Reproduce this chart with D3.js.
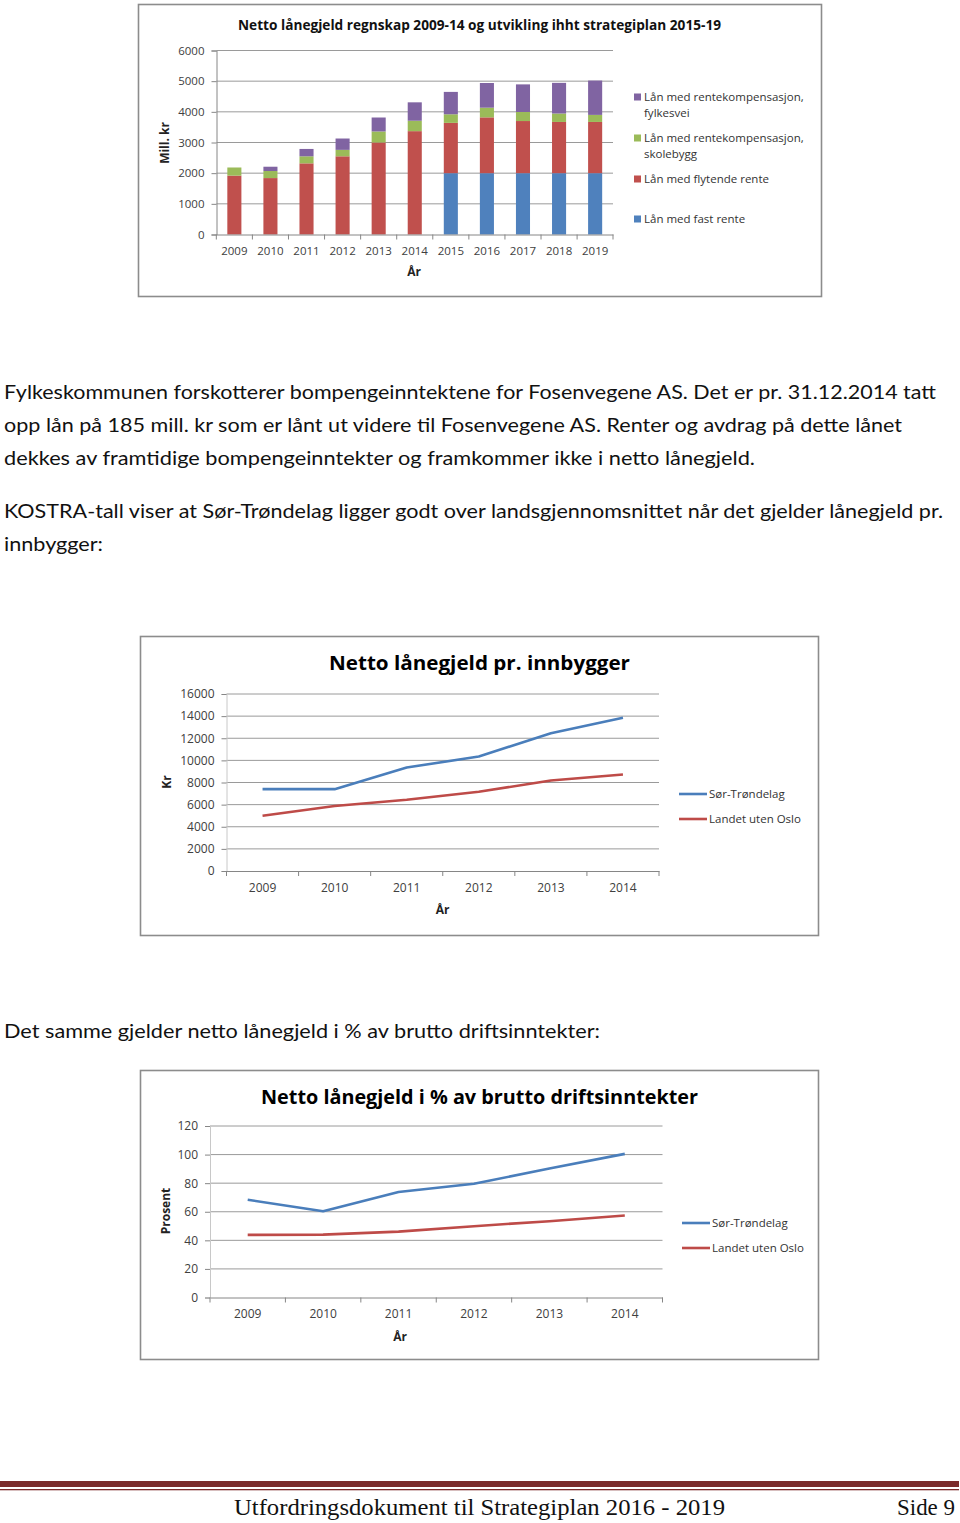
<!DOCTYPE html>
<html><head><meta charset="utf-8">
<script src="https://cdn.jsdelivr.net/npm/d3@7"></script>
<style>
html,body{margin:0;padding:0;background:#fff;}
svg{display:block;}
</style></head>
<body>
<svg id="page" width="960" height="1523"></svg>
<script>
// ---------- DATA ----------
const barYears = ["2009","2010","2011","2012","2013","2014","2015","2016","2017","2018","2019"];
const fastRente      = [0,0,0,0,0,0,2000,2000,2000,2000,2000];
const flytendeRente  = [1920,1840,2320,2550,3000,3370,1640,1820,1700,1670,1670];
const skolebygg      = [265,230,230,210,360,340,280,315,295,275,230];
const fylkesvei      = [0,140,240,370,455,600,730,805,900,1000,1120];
const barSeriesNames = ["Lån med fast rente","Lån med flytende rente","Lån med rentekompensasjon, skolebygg","Lån med rentekompensasjon, fylkesvei"];
const barTicks = [0,1000,2000,3000,4000,5000,6000];

const lineYears = ["2009","2010","2011","2012","2013","2014"];
const innbSorTrondelag = [7400,7400,9350,10350,12450,13860];
const innbLandet       = [4990,5870,6440,7160,8180,8720];
const innbTicks = [0,2000,4000,6000,8000,10000,12000,14000,16000];

const prosSorTrondelag = [68.4,60.4,73.8,79.6,90.2,100.5];
const prosLandet       = [43.8,44.0,46.1,49.9,53.4,57.4];
const prosTicks = [0,20,40,60,80,100,120];
const lineSeriesNames = ["Sør-Trøndelag","Landet uten Oslo"];

const paragraphs = [
  {t:"Fylkeskommunen forskotterer bompengeinntektene for Fosenvegene AS. Det er pr. 31.12.2014 tatt", y:392, w:932},
  {t:"opp lån på 185 mill. kr som er lånt ut videre til Fosenvegene AS. Renter og avdrag på dette lånet", y:425, w:898},
  {t:"dekkes av framtidige bompengeinntekter og framkommer ikke i netto lånegjeld.", y:458, w:751},
  {t:"KOSTRA-tall viser at Sør-Trøndelag ligger godt over landsgjennomsnittet når det gjelder lånegjeld pr.", y:511, w:939},
  {t:"innbygger:", y:544, w:99},
  {t:"Det samme gjelder netto lånegjeld i % av brutto driftsinntekter:", y:1031, w:596}
];

// ---------- STYLE ----------
const FONT = "'Open Sans', sans-serif";
const TEXT_FONT = "Lato, 'Open Sans', sans-serif";
const cBlue="#4f81bd", cRed="#c0504d", cGreen="#9bbb59", cPurple="#8064a2";
const lineBlue="#4a7ebb", lineRed="#be4b48";
const gridC="#9a9a9a", axisC="#868686", labelC="#404040";

const svg = d3.select("#page");

// ---------- paragraphs ----------
paragraphs.forEach(p=>{
  svg.append("text").attr("x",4).attr("y",p.y+7)
    .attr("font-family",TEXT_FONT).attr("font-size",20).attr("fill","#111")
    .attr("textLength",p.w).attr("lengthAdjust","spacingAndGlyphs")
    .text(p.t);
});

// ---------- frame helper ----------
function frame(x,y,w,h){
  svg.append("rect").attr("x",x).attr("y",y).attr("width",w).attr("height",h)
    .attr("fill","#fff").attr("stroke","#8c8c8c").attr("stroke-width",1.6);
}

// ---------- CHART 1: stacked bars ----------
(function(){
  frame(138.5,4.5,683,292);
  const x = d3.scaleBand().domain(barYears).range([216.5,613]).paddingInner(0.61).paddingOuter(0.3);
  const y = d3.scaleLinear().domain([0,6000]).range([234.5,50.5]);
  const g = svg.append("g");
  g.selectAll(".gr").data(barTicks.filter(d=>d>0)).enter().append("line")
    .attr("x1",216.5).attr("x2",613).attr("y1",d=>y(d)).attr("y2",d=>y(d))
    .attr("stroke",gridC).attr("stroke-width",1);
  const ya = g.append("g").attr("transform","translate(216.5,0)")
    .call(d3.axisLeft(y).tickValues(barTicks).tickSize(5).tickPadding(7).tickFormat(d3.format("d")));
  ya.select(".domain").attr("stroke",axisC);
  ya.selectAll(".tick line").attr("stroke",axisC);
  ya.selectAll("text").attr("font-family",FONT).attr("font-size",11.5).attr("fill",labelC);
  const rows = barYears.map((yr,i)=>({year:yr, a:fastRente[i], b:flytendeRente[i], c:skolebygg[i], d:fylkesvei[i]}));
  const stack = d3.stack().keys(["a","b","c","d"])(rows);
  const cols = [cBlue,cRed,cGreen,cPurple];
  stack.forEach((s,k)=>{
    g.selectAll(".b"+k).data(s).enter().append("rect")
      .attr("x",d=>x(d.data.year)).attr("width",x.bandwidth())
      .attr("y",d=>y(d[1])).attr("height",d=>Math.max(0,y(d[0])-y(d[1])))
      .attr("fill",cols[k]);
  });
  const xa = g.append("g").attr("transform","translate(0,"+y(0)+")")
    .call(d3.axisBottom(x).tickSize(0).tickPadding(12));
  xa.select(".domain").attr("stroke",axisC);
  xa.selectAll("text").attr("font-family",FONT).attr("font-size",11.5).attr("fill",labelC);
  const bounds = barYears.map(d=>x(d)-x.step()*x.paddingInner()/2).concat([613]);
  g.selectAll(".xt").data(bounds).enter().append("line")
    .attr("x1",d=>d).attr("x2",d=>d).attr("y1",y(0)).attr("y2",y(0)+5).attr("stroke",axisC);
  g.append("text").attr("x",479.5).attr("y",30).attr("text-anchor","middle")
    .attr("font-family",FONT).attr("font-weight","bold").attr("font-size",13.5).attr("fill","#111")
    .attr("textLength",483).attr("lengthAdjust","spacingAndGlyphs")
    .text("Netto lånegjeld regnskap 2009-14 og utvikling ihht strategiplan 2015-19");
  g.append("text").attr("x",414).attr("y",276).attr("text-anchor","middle")
    .attr("font-family",FONT).attr("font-weight","bold").attr("font-size",12).attr("fill","#222").text("År");
  g.append("text").attr("transform","translate(169,143) rotate(-90)").attr("text-anchor","middle")
    .attr("font-family",FONT).attr("font-weight","bold").attr("font-size",12).attr("fill","#222").text("Mill. kr");
  const leg = [
    {c:cPurple, lines:["Lån med rentekompensasjon,","fylkesvei"], y:97},
    {c:cGreen,  lines:["Lån med rentekompensasjon,","skolebygg"], y:138},
    {c:cRed,    lines:["Lån med flytende rente"], y:179},
    {c:cBlue,   lines:["Lån med fast rente"], y:219}
  ];
  leg.forEach(l=>{
    g.append("rect").attr("x",634).attr("y",l.y-3.5).attr("width",7).attr("height",7).attr("fill",l.c);
    l.lines.forEach((t,i)=>{
      g.append("text").attr("x",644).attr("y",l.y+4+i*16)
        .attr("font-family",FONT).attr("font-size",11.5).attr("fill","#333").text(t);
    });
  });
})();

// ---------- line chart helper ----------
function lineChart(o){
  frame(o.fx,o.fy,o.fw,o.fh);
  const g = svg.append("g");
  const x = d3.scaleBand().domain(lineYears).range([o.x0,o.x1]);
  const y = d3.scaleLinear().domain([0,o.ymax]).range([o.y0,o.yTop]);
  g.selectAll(".gr").data(o.ticks.filter(d=>d>0)).enter().append("line")
    .attr("x1",o.x0).attr("x2",o.x1).attr("y1",d=>y(d)).attr("y2",d=>y(d))
    .attr("stroke",gridC).attr("stroke-width",1);
  const ya = g.append("g").attr("transform","translate("+o.x0+",0)")
    .call(d3.axisLeft(y).tickValues(o.ticks).tickSize(5).tickPadding(7).tickFormat(d3.format("d")));
  ya.select(".domain").attr("stroke","#c8c8c8");
  ya.selectAll(".tick line").attr("stroke",axisC);
  ya.selectAll("text").attr("font-family",FONT).attr("font-size",12).attr("fill",labelC);
  const xa = g.append("g").attr("transform","translate(0,"+o.y0+")")
    .call(d3.axisBottom(x).tickSize(0).tickPadding(12));
  xa.select(".domain").attr("stroke",axisC);
  xa.selectAll("text").attr("font-family",FONT).attr("font-size",12).attr("fill",labelC);
  const bounds = lineYears.map(d=>x(d)).concat([o.x1]);
  g.selectAll(".xt").data(bounds).enter().append("line")
    .attr("x1",d=>d).attr("x2",d=>d).attr("y1",o.y0).attr("y2",o.y0+5).attr("stroke",axisC);
  const line = d3.line().x((d,i)=>x(lineYears[i])+x.bandwidth()/2).y(d=>y(d));
  [[o.s1,lineBlue],[o.s2,lineRed]].forEach(([s,c])=>{
    g.append("path").datum(s).attr("d",line).attr("fill","none").attr("stroke",c)
      .attr("stroke-width",2.6).attr("stroke-linejoin","round");
  });
  g.append("text").attr("x",o.tx).attr("y",o.ty).attr("text-anchor","middle")
    .attr("font-family",FONT).attr("font-weight","bold").attr("font-size",20).attr("fill","#000")
    .attr("textLength",o.tw).attr("lengthAdjust","spacingAndGlyphs").text(o.title);
  g.append("text").attr("x",o.arx).attr("y",o.y0+43).attr("text-anchor","middle")
    .attr("font-family",FONT).attr("font-weight","bold").attr("font-size",12).attr("fill","#222").text("År");
  g.append("text").attr("transform","translate("+o.ylx+","+o.yly+") rotate(-90)").attr("text-anchor","middle")
    .attr("font-family",FONT).attr("font-weight","bold").attr("font-size",12).attr("fill","#222").text(o.ylab);
  [[lineBlue,o.ly1],[lineRed,o.ly2]].forEach(([c,ly],i)=>{
    g.append("line").attr("x1",o.lx).attr("x2",o.lx+28).attr("y1",ly).attr("y2",ly)
      .attr("stroke",c).attr("stroke-width",2.6);
    g.append("text").attr("x",o.lx+30).attr("y",ly+4).attr("font-family",FONT).attr("font-size",11.5)
      .attr("fill","#333").text(lineSeriesNames[i]);
  });
}

lineChart({fx:140.5,fy:636.5,fw:678,fh:299, x0:226.5,x1:659,y0:871,yTop:694,ymax:16000,ticks:innbTicks,
  s1:innbSorTrondelag,s2:innbLandet,title:"Netto lånegjeld pr. innbygger",tx:479.5,ty:670,tw:301,
  ylab:"Kr",ylx:171,yly:782,lx:679,ly1:794,ly2:819,arx:442.5});

lineChart({fx:140.5,fy:1070.5,fw:678,fh:289, x0:210,x1:662.5,y0:1297.5,yTop:1126,ymax:120,ticks:prosTicks,
  s1:prosSorTrondelag,s2:prosLandet,title:"Netto lånegjeld i % av brutto driftsinntekter",tx:479.5,ty:1104,tw:437,
  ylab:"Prosent",ylx:170,yly:1211,lx:682,ly1:1223,ly2:1248,arx:400});

// ---------- footer ----------
svg.append("rect").attr("x",0).attr("y",1481).attr("width",959).attr("height",6).attr("fill","#7a2a2a");
svg.append("rect").attr("x",0).attr("y",1489).attr("width",959).attr("height",1.3).attr("fill","#7a2a2a");
svg.append("text").attr("x",234).attr("y",1515).attr("font-family","'Liberation Serif', serif").attr("font-size",24)
  .attr("fill","#111").attr("textLength",491).attr("lengthAdjust","spacingAndGlyphs")
  .text("Utfordringsdokument til Strategiplan 2016 - 2019");
svg.append("text").attr("x",897).attr("y",1515).attr("font-family","'Liberation Serif', serif").attr("font-size",24)
  .attr("fill","#111").attr("textLength",58).attr("lengthAdjust","spacingAndGlyphs").text("Side 9");
</script>
</body></html>
